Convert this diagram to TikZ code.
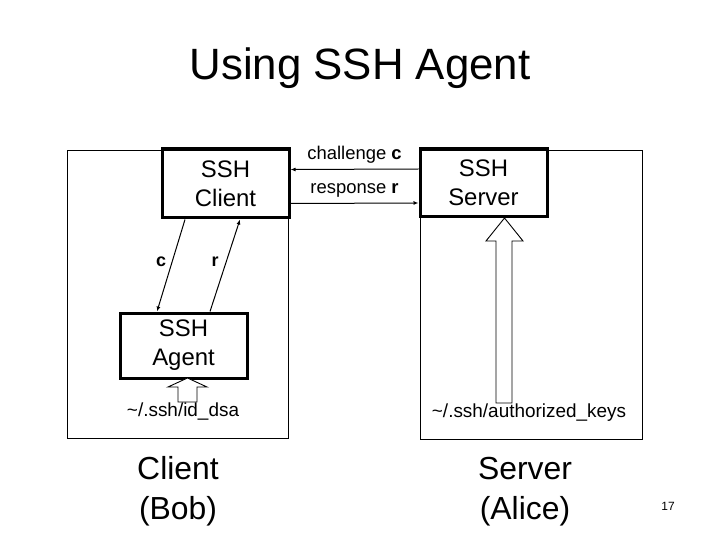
\documentclass[tikz,border=0pt]{standalone}
\usepackage{fontspec}
\setmainfont{Liberation Sans}
\usetikzlibrary{arrows.meta}
\begin{document}
\begin{tikzpicture}[x=1bp,y=-1bp,
  thinbox/.style={draw,line width=0.9bp},
  thickbox/.style={draw,line width=3bp,inner sep=0pt,align=center,
    font=\fontsize{24}{29}\selectfont},
  msg/.style={line width=1bp,-{Latex[length=5bp,width=4bp]}},
  blockarrow/.style={draw,line width=0.9bp,fill=white},
  lbl/.style={inner sep=0pt,align=center},
  msgfont/.style={font=\fontsize{18.5}{21}\selectfont},
  keyfont/.style={font=\fontsize{19}{22}\selectfont},
  bigfont/.style={lbl,anchor=base,font=\fontsize{32}{40}\selectfont}]
\useasboundingbox (0,0) rectangle (720,540);
% title
\node[lbl,font=\fontsize{44}{52}\selectfont] (title) at (360,68) {Using SSH Agent};
% outer boxes
\draw[thinbox] (67,150) rectangle (288,438);
\draw[thinbox] (420,150) rectangle (642,439);
% inner boxes
\node[thickbox,minimum width=127bp,minimum height=69bp] (client) at (225.5,183.5) {SSH\\Client};
\node[thickbox,minimum width=127bp,minimum height=68bp] (server) at (483.5,183) {SSH\\Server};
\node[thickbox,minimum width=127bp,minimum height=65bp] (agent) at (183.5,345.5) {SSH\\Agent};
% messages
\draw[msg] ([yshift=14bp]server.west) -- node[lbl,above=5bp,msgfont]{challenge \textbf{c}} ([yshift=14bp]client.east);
\draw[msg] ([yshift=-20bp]client.east) -- node[lbl,above=5bp,msgfont]{response \textbf{r}} ([yshift=-20bp]server.west);
\draw[msg] ([xshift=-40.5bp]client.south) -- ([xshift=-26.5bp]agent.north);
\draw[msg] ([xshift=26.5bp]agent.north) -- ([xshift=14.5bp]client.south);
\node[lbl,font=\fontsize{18}{20}\bfseries] (clbl) at (161,262) {c};
\node[lbl,font=\fontsize{18}{20}\bfseries] (rlbl) at (215,262) {r};
% key files
\node[lbl,keyfont] (idkey) at (183,412) {\char`\~/.ssh/id\_dsa};
\node[lbl,keyfont] (authkey) at (529,413) {\char`\~/.ssh/authorized\_keys};
% block arrows
\draw[blockarrow] (187.5,378) -- (207,387) -- (197,387) -- (197,402) -- (178,402) -- (178,387) -- (168,387) -- cycle;
\draw[blockarrow] (504.5,218) -- (523,241) -- (512,241) -- (512,403) -- (496,403) -- (496,241) -- (486,241) -- cycle;
% bottom labels
\node[bigfont] (bob1) at (178,479) {Client};
\node[bigfont] (bob2) at (178,519) {(Bob)};
\node[bigfont] (alice1) at (525,479) {Server};
\node[bigfont] (alice2) at (525,519) {(Alice)};
\node[lbl,font=\fontsize{12}{14}\selectfont] (page) at (668,506) {17};
\end{tikzpicture}
\end{document}
